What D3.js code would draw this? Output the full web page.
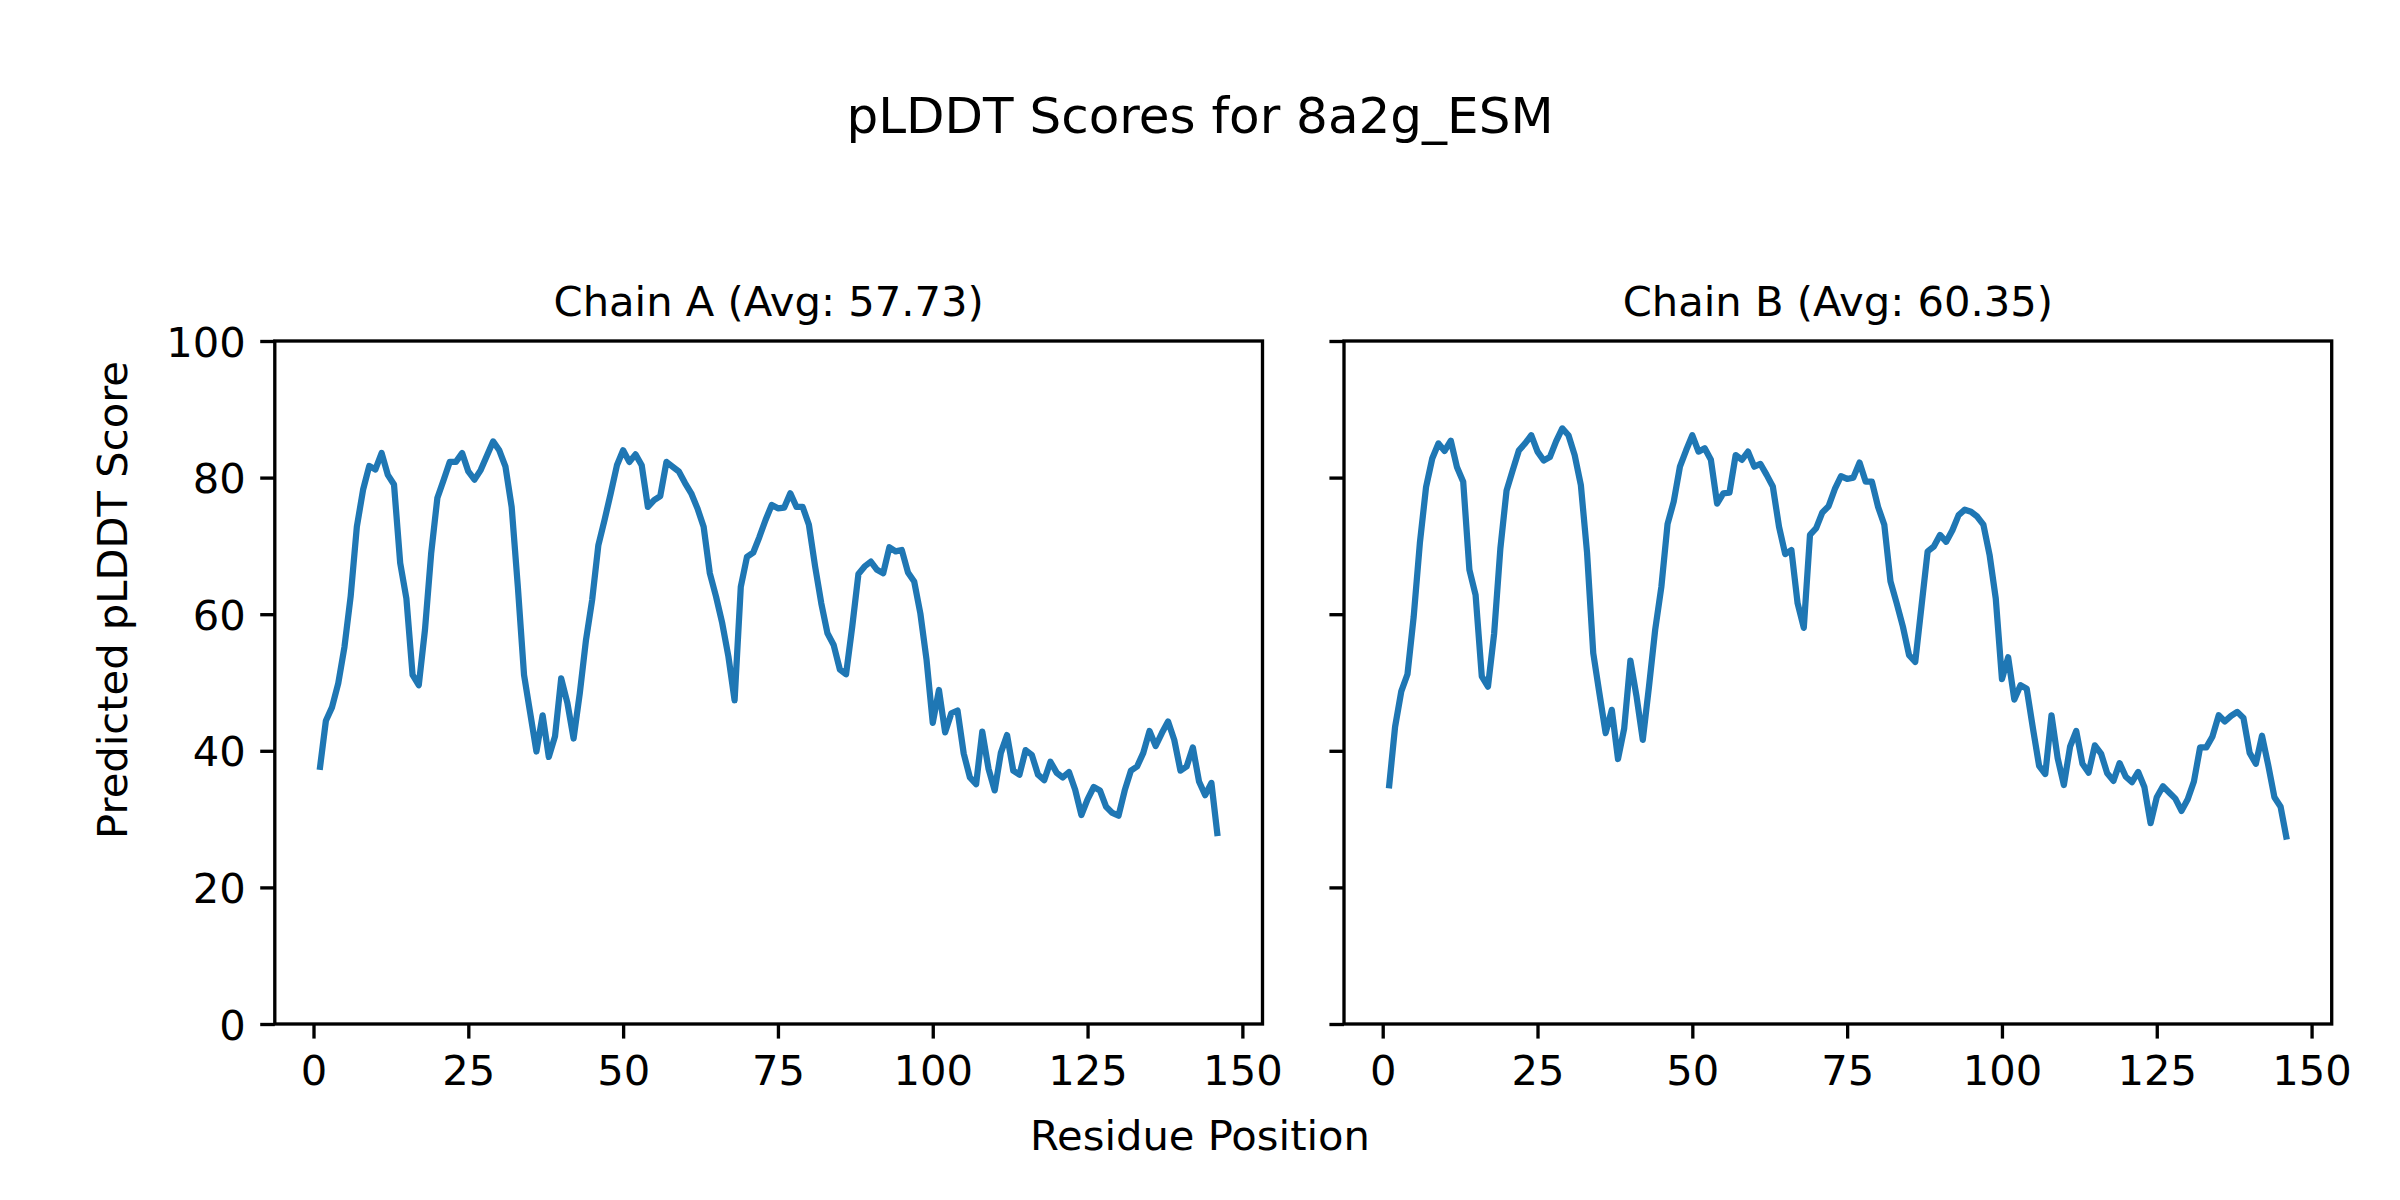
<!DOCTYPE html>
<html>
<head>
<meta charset="utf-8">
<script src="https://cdn.jsdelivr.net/npm/d3@7"></script>
<style>
  html, body { margin: 0; padding: 0; background: #ffffff; }
  svg { display: block; }
  text { font-family: "DejaVu Sans", sans-serif; fill: #000; }
</style>
</head>
<body>
<script>
// ---------------- data ----------------
const figureTitle = "pLDDT Scores for 8a2g_ESM";
const xLabel = "Residue Position";
const yLabel = "Predicted pLDDT Score";
const chainNames = ["Chain A (Avg: 57.73)", "Chain B (Avg: 60.35)"];
const xTicks = [0, 25, 50, 75, 100, 125, 150];
const yTicks = [0, 20, 40, 60, 80, 100];

const chainA = [37.2,44.4,46.4,49.9,55.2,62.6,72.8,78.2,81.7,81.2,
  83.6,80.4,79.0,67.5,62.3,51.1,49.6,57.7,68.9,77.0,
  79.6,82.3,82.3,83.6,80.9,79.7,81.1,83.2,85.3,84.0,
  81.6,75.7,64.0,51.1,45.5,39.9,45.2,39.1,42.1,50.6,
  47.0,41.8,48.4,56.2,62.1,70.1,73.8,77.7,81.8,84.0,
  82.3,83.4,81.8,75.7,76.7,77.3,82.3,81.6,80.9,79.2,
  77.7,75.5,72.8,66.0,62.6,58.7,53.8,47.4,64.0,68.4,
  69.0,71.3,73.8,76.0,75.5,75.6,77.7,75.7,75.7,73.1,
  67.0,61.6,57.2,55.5,51.9,51.2,58.2,65.9,67.0,67.7,
  66.5,66.0,69.8,69.2,69.4,66.1,64.8,60.1,53.3,44.1,
  48.9,42.7,45.5,45.9,39.6,36.1,35.1,42.8,37.4,34.2,
  39.7,42.3,37.1,36.5,40.1,39.4,36.5,35.7,38.4,36.8,
  36.1,36.9,34.3,30.6,32.9,34.7,34.2,31.8,30.9,30.5,
  34.2,37.1,37.7,39.7,42.9,40.7,42.6,44.3,41.6,37.1,
  37.7,40.5,35.5,33.5,35.3,27.5];

const chainB = [34.5,43.5,48.7,51.2,59.6,70.4,78.6,82.8,85.0,83.9,
  85.4,81.5,79.4,66.5,62.8,50.9,49.4,57.2,69.6,78.1,
  81.1,84.0,85.0,86.2,83.8,82.5,83.0,85.3,87.2,86.2,
  83.3,78.9,69.0,54.3,48.4,42.6,46.0,38.8,43.3,53.2,
  47.9,41.6,49.4,57.7,64.0,73.2,76.5,81.6,84.0,86.2,
  83.8,84.3,82.6,76.2,77.7,77.8,83.3,82.6,83.8,81.6,
  82.0,80.4,78.7,72.8,68.8,69.4,61.6,58.0,71.6,72.6,
  74.9,75.8,78.3,80.2,79.8,80.0,82.2,79.4,79.4,75.7,
  73.1,64.8,61.6,58.2,54.0,53.0,61.1,69.2,69.9,71.6,
  70.6,72.3,74.5,75.3,75.0,74.3,73.1,68.7,62.3,50.5,
  53.7,47.5,49.6,49.1,43.3,37.8,36.6,45.2,38.9,35.0,
  40.6,42.9,38.1,36.8,40.8,39.6,36.7,35.6,38.2,36.2,
  35.4,36.9,34.7,29.4,33.2,34.8,33.9,33.0,31.2,32.9,
  35.5,40.5,40.5,42.1,45.2,44.3,45.1,45.7,44.8,39.7,
  38.1,42.2,37.9,33.2,31.8,27.0];

// ---------------- layout ----------------
const W = 2400, H = 1200;
const PT = 300 / 72;               // 300 dpi
const fsTitle = 12 * PT, fsText = 10 * PT;
const lineW = 1.5 * PT, spineW = 0.8 * PT, tickLen = 3.5 * PT, tickPad = 3.5 * PT;
const color = "#1f77b4";

const panels = [
  { name: chainNames[0], values: chainA, left: 274.8, right: 1262.5, showY: true },
  { name: chainNames[1], values: chainB, left: 1344, right: 2331.7, showY: false }
];
const axTop = 341, axBottom = 1024;

const svg = d3.select("body").append("svg")
  .attr("width", W).attr("height", H)
  .attr("viewBox", `0 0 ${W} ${H}`);
svg.append("rect").attr("width", W).attr("height", H).attr("fill", "#fff");

const allN = Math.max(chainA.length, chainB.length);
const xMin = 1, xMax = allN;
const xPad = (xMax - xMin) * 0.05;

panels.forEach(p => {
  const x = d3.scaleLinear().domain([xMin - xPad, xMax + xPad]).range([p.left, p.right]);
  const y = d3.scaleLinear().domain([0, 100]).range([axBottom, axTop]);
  const g = svg.append("g");

  // line
  const line = d3.line().x((d, i) => x(i + 1)).y(d => y(d));
  g.append("path").datum(p.values)
    .attr("d", line).attr("fill", "none")
    .attr("stroke", color).attr("stroke-width", lineW)
    .attr("stroke-linejoin", "round").attr("stroke-linecap", "butt");

  // axes
  const xAxis = d3.axisBottom(x).tickValues(xTicks).tickFormat(d3.format("d"))
    .tickSize(tickLen).tickPadding(tickPad);
  const gx = g.append("g").attr("transform", `translate(0,${axBottom})`).call(xAxis);
  gx.select(".domain").remove();
  gx.selectAll(".tick line").attr("stroke", "#000").attr("stroke-width", spineW);
  gx.selectAll(".tick text").attr("font-size", fsText).attr("font-family", "DejaVu Sans")
    .attr("dy", "0.76em");

  const yAxis = d3.axisLeft(y).tickValues(yTicks).tickFormat(p.showY ? d3.format("d") : () => "")
    .tickSize(tickLen).tickPadding(tickPad);
  const gy = g.append("g").attr("transform", `translate(${p.left},0)`).call(yAxis);
  gy.select(".domain").remove();
  gy.selectAll(".tick line").attr("stroke", "#000").attr("stroke-width", spineW);
  gy.selectAll(".tick text").attr("font-size", fsText).attr("font-family", "DejaVu Sans")
    .attr("dy", "0.36em");

  // frame (spines)
  g.append("rect")
    .attr("x", p.left).attr("y", axTop)
    .attr("width", p.right - p.left).attr("height", axBottom - axTop)
    .attr("fill", "none").attr("stroke", "#000").attr("stroke-width", spineW)
    .attr("stroke-linejoin", "miter");

  // subplot title
  g.append("text")
    .attr("x", (p.left + p.right) / 2).attr("y", axTop - 6 * PT)
    .attr("text-anchor", "middle").attr("font-size", fsText)
    .text(p.name);
});

// figure title
svg.append("text").attr("x", W / 2).attr("y", 133)
  .attr("text-anchor", "middle").attr("font-size", fsTitle)
  .text(figureTitle);

// shared x label
svg.append("text").attr("x", W / 2).attr("y", 1150)
  .attr("text-anchor", "middle").attr("font-size", fsText)
  .text(xLabel);

// shared y label
svg.append("text")
  .attr("transform", `translate(127,600) rotate(-90)`)
  .attr("text-anchor", "middle").attr("font-size", fsText)
  .text(yLabel);
</script>
</body>
</html>
